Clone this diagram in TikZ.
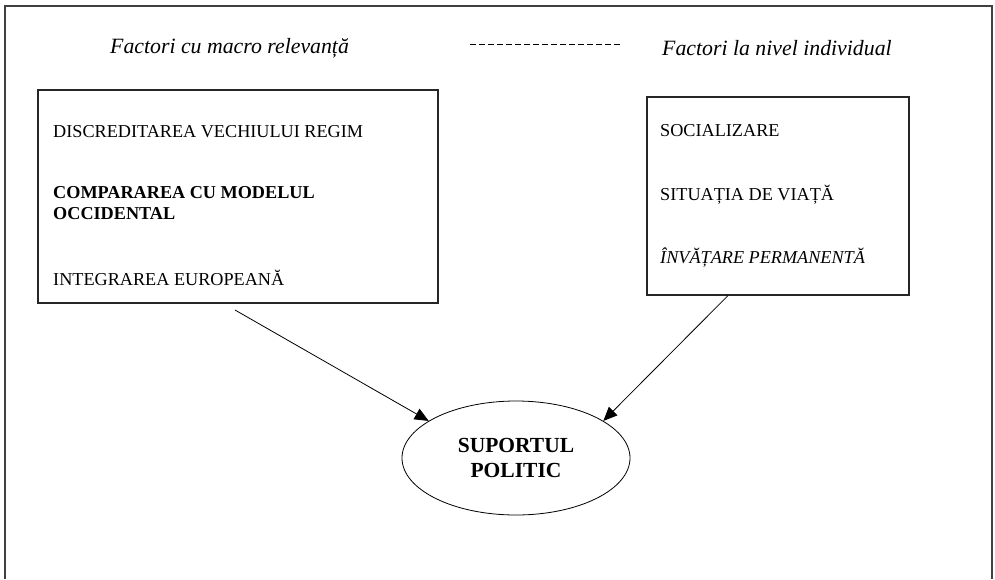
\documentclass[tikz,border=0pt]{standalone}
\usepackage{fontspec}
\setmainfont{Liberation Serif}
\usetikzlibrary{shapes.geometric,arrows.meta}
\begin{document}
\begin{tikzpicture}[x=1pt,y=-1pt,
  frame/.style={draw=black!75,line width=1.4pt},
  boxst/.style={draw=black!85,line width=1.1pt},
  body/.style={anchor=west,inner sep=0pt,font=\fontsize{18.2}{21}\selectfont},
  titlest/.style={anchor=west,inner sep=0pt,font=\fontsize{21.8}{25}\selectfont\itshape},
  arr/.style={line width=0.8pt,-{Triangle[length=14pt,width=12pt]}}]
\useasboundingbox (0,0) rectangle (995,579);
\fill[white] (0,0) rectangle (995,579);
\draw[frame] (5,579) -- (5,6) -- (992,6) -- (992,579);
\node[titlest] (t1) at (110,48) {Factori cu macro relevanță};
\node[titlest] (t2) at (662,48) {Factori la nivel individual};
\coordinate (d1) at (470,44);
\coordinate (d2) at (621,44);
\draw[line width=0.8pt,dash pattern=on 6pt off 3pt] (d1) -- (d2);
\node[boxst,minimum width=400pt,minimum height=213pt,inner sep=0pt] (lbox) at (238,196.5) {};
\node[boxst,minimum width=262pt,minimum height=198pt,inner sep=0pt] (rbox) at (778,196) {};
\node[body] (l1) at (53,132) {DISCREDITAREA VECHIULUI REGIM};
\node[body,align=left,font=\fontsize{18.2}{20.5}\selectfont\bfseries] (l2) at (53,203) {COMPARAREA CU MODELUL\\OCCIDENTAL};
\node[body] (l3) at (53,278) {INTEGRAREA EUROPEANĂ};
\node[body] (r1) at (660,131) {SOCIALIZARE};
\node[body] (r2) at (660,195) {SITUAȚIA DE VIAȚĂ};
\node[body,font=\fontsize{18.2}{21}\selectfont\itshape] (r3) at (660,258) {ÎNVĂȚARE PERMANENTĂ};
\node[draw,line width=0.8pt,ellipse,minimum width=228pt,minimum height=114pt,inner sep=0pt,align=center,font=\fontsize{21.5}{25}\selectfont\bfseries] (ell) at (516,458) {SUPORTUL\\POLITIC};
\coordinate (s1) at (235,310);
\draw[arr] (s1) -- (ell.157);
\draw[arr] ([xshift=-50pt]rbox.south) -- (ell.23);
\end{tikzpicture}
\end{document}
